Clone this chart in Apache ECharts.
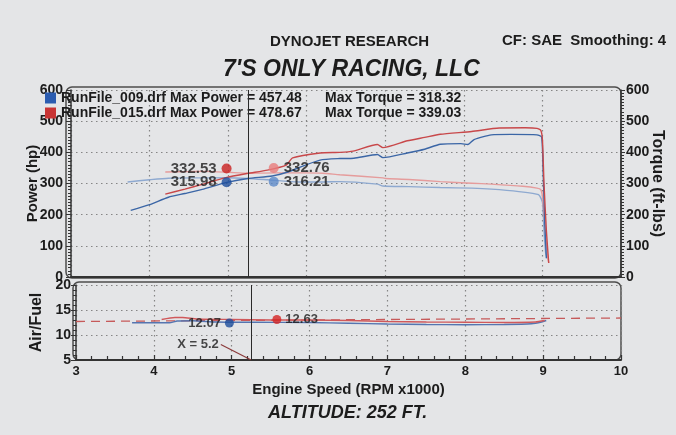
<!DOCTYPE html>
<html><head><meta charset="utf-8">
<script src="https://cdn.jsdelivr.net/npm/echarts@6/dist/echarts.min.js"></script>
<style>html,body{margin:0;padding:0;background:#e4e5e7}#c{width:676px;height:435px}</style>
</head><body><div id="c"></div>
<script>
// ---- data ----
const runNames = ['RunFile_009.drf', 'RunFile_015.drf'];
const maxPower = ['457.48', '478.67'];
const maxTorque = ['318.32', '339.03'];

// [rpm x1000, hp]
const bluePower = [[3.76,214],[4.0,232],[4.24,256],[4.45,268],[4.67,281],[4.97,303],[5.25,316],[5.56,324],[5.75,336],[5.91,352],[6.17,375],[6.42,380],[6.6,381],[6.9,393],[6.97,383],[7.28,398],[7.5,410],[7.7,426],[7.96,428],[8.05,425],[8.13,441],[8.35,456],[8.6,457.5],[8.93,456],[8.99,449],[9.01,330],[9.03,170],[9.05,60]];
const redPower = [[4.2,266],[4.45,282],[4.67,297],[4.97,319],[5.25,332.5],[5.5,343],[5.74,359],[5.82,382],[6.17,398],[6.42,400],[6.59,404],[6.9,425],[6.97,415],[7.28,437],[7.5,448],[7.7,458],[8.1,467],[8.45,478],[8.78,478.67],[8.93,477],[8.98,470],[9.0,440],[9.02,300],[9.05,150],[9.08,45]];
// [rpm x1000, ft-lbs]
const blueTorque = [[3.72,305],[4.0,312],[4.24,317],[4.6,318],[4.97,318.3],[5.25,316.2],[5.5,312],[5.9,305],[6.2,305],[6.42,306],[6.9,298],[6.97,292],[7.3,290],[7.7,287],[8.1,285],[8.35,282],[8.7,274],[8.95,264],[9.0,240],[9.02,150],[9.04,80],[9.06,60]];
const redTorque = [[4.2,337],[4.5,338],[4.7,339],[5.0,336],[5.25,332.8],[5.6,334],[6.0,334],[6.2,333],[6.42,328],[6.97,318],[7.0,316],[7.3,313],[7.7,306],[8.1,301],[8.35,298],[8.75,291],[8.93,285],[8.98,280],[9.0,260],[9.03,170],[9.06,80],[9.08,45]];
// [rpm x1000, air/fuel]
const blueAfr = [[3.72,12.45],[4.2,12.45],[4.3,12.8],[4.5,12.85],[4.8,12.6],[5.25,12.55],[6.0,12.5],[6.5,12.35],[7.0,12.2],[7.5,12.1],[8.0,12.05],[8.5,12.1],[8.85,12.25],[8.98,12.6],[9.04,12.9]];
const redAfr = [[4.1,13.1],[4.27,13.5],[4.37,13.5],[4.55,13.2],[5.0,13.1],[5.5,13.0],[6.0,13.0],[6.5,12.9],[7.0,12.7],[7.5,12.6],[8.0,12.55],[8.5,12.5],[8.9,12.6],[9.02,12.9]];
const afrTarget = [[3,12.7],[10,13.4]];

const cursorRpm = 5.25;
const cursorText = 'X = 5.2';
const cursorLeader = [[4.86,8.1],[5.25,5.0]];
// cursor read-out dots: [rpm, value, text]
const powerDots = [[4.98,348,'332.53'],[4.98,304,'315.98']];
const torqueDots = [[5.58,350,'332.76'],[5.58,306,'316.21']];
const afrDots = [[4.97,12.4,'12.07'],[5.58,13.1,'12.63']];

// ---- styling ----
const F = 'Liberation Sans';
const C = {bluePow:'#3b66a6', blueTq:'#8ea9d0', redPow:'#c8484a', redTq:'#e59c9c',
  dotRed:'#c91f1f', dotRedL:'#e87c7c', dotBlue:'#1d4d9c', dotBlueL:'#5d89c9'};
const txt = '#1c1c1c';
const gridLine = {show:true, lineStyle:{color:'#858585', width:1.2, type:[1.5,3.5]}};
const lab = {color:txt, fontFamily:F, fontWeight:'bold', fontSize:14};

const chart = echarts.init(document.getElementById('c'));
const cursorMark = {silent:true, symbol:'none', label:{show:false},
  lineStyle:{color:'#2a2a2a', width:1, type:'solid'}, data:[{xAxis:cursorRpm}]};

function dots(arr, colors, pos, fs) {
  return arr.map((d, i) => ({value:[d[0], d[1]], name:d[2],
    itemStyle:{color:colors[i]}, label:{position:pos, fontSize:fs}}));
}

chart.setOption({
  backgroundColor:'#e4e5e7',
  animation:false,
  title:[
    {text:'DYNOJET RESEARCH', left:265, top:29, textStyle:{fontFamily:F, fontWeight:'bold', fontSize:15, color:txt}},
    {text:'CF: SAE  Smoothing: 4', left:497, top:28, textStyle:{fontFamily:F, fontWeight:'bold', fontSize:15, color:txt}},
    {text:"7'S ONLY RACING, LLC", left:218, top:53, textStyle:{fontFamily:F, fontWeight:'bold', fontStyle:'italic', fontSize:23, color:txt}},
    {text:'ALTITUDE: 252 FT.', left:263, top:399, textStyle:{fontFamily:F, fontWeight:'bold', fontStyle:'italic', fontSize:18, color:txt}}
  ],
  legend:{
    left:40, top:86, orient:'vertical', icon:'rect', itemWidth:11, itemHeight:11, itemGap:1,
    selectedMode:false,
    data:[{name:runNames[0], itemStyle:{color:'#2b5cb0'}}, {name:runNames[1], itemStyle:{color:'#c83434'}}],
    formatter: n => { const i = runNames.indexOf(n); return `{a|${n} Max Power = ${maxPower[i]}}{b|Max Torque = ${maxTorque[i]}}`; },
    textStyle:{fontFamily:F, fontWeight:'bold', fontSize:14, color:txt, lineHeight:14,
      rich:{a:{width:264, fontFamily:F, fontWeight:'bold', fontSize:14, color:txt},
            b:{fontFamily:F, fontWeight:'bold', fontSize:14, color:txt}}}
  },
  graphic:[
    {type:'rect', z:0, shape:{x:66, y:87, width:555, height:191, r:6}, style:{fill:'none', stroke:'#4d4d4d', lineWidth:1.5}},
    {type:'rect', z:0, shape:{x:73, y:282, width:548, height:78, r:6}, style:{fill:'none', stroke:'#4d4d4d', lineWidth:1.5}}
  ],
  grid:[
    {left:71, right:55, top:90, bottom:158, outerBoundsMode:'none', containLabel:false},
    {left:76, right:55, top:285, bottom:75, outerBoundsMode:'none', containLabel:false}
  ],
  xAxis:[
    {gridIndex:0, type:'value', min:3, max:10, interval:1, axisLabel:{show:false}, axisTick:{show:false},
      axisLine:{show:true, lineStyle:{color:'#333', width:2}}, splitLine:gridLine},
    {gridIndex:1, type:'value', min:3, max:10, interval:1,
      axisLabel:Object.assign({}, lab, {fontSize:13, margin:5}),
      axisTick:{show:true, inside:true, length:5, lineStyle:{color:'#333', width:1.2}},
      minorTick:{show:true, splitNumber:5, length:4, lineStyle:{color:'#333', width:1.2}},
      axisLine:{show:true, lineStyle:{color:'#333', width:2}}, splitLine:gridLine,
      name:'Engine Speed (RPM x1000)', nameLocation:'middle', nameGap:22, nameMoveOverlap:false,
      nameTextStyle:{fontFamily:F, fontWeight:'bold', fontSize:15, color:txt}}
  ],
  yAxis:[
    {gridIndex:0, type:'value', min:0, max:600, interval:100, axisLabel:Object.assign({}, lab, {margin:8}),
      axisLine:{show:true, lineStyle:{color:'#333', width:1.5}},
      axisTick:{show:true, length:5, lineStyle:{color:'#333'}},
      minorTick:{show:true, splitNumber:10, length:3, lineStyle:{color:'#333'}},
      splitLine:gridLine,
      name:'Power (hp)', nameLocation:'middle', nameGap:31, nameRotate:90, nameMoveOverlap:false,
      nameTextStyle:{fontFamily:F, fontWeight:'bold', fontSize:15, color:txt}},
    {gridIndex:0, type:'value', min:0, max:600, interval:100, position:'right', axisLabel:Object.assign({}, lab, {margin:5}),
      axisLine:{show:true, lineStyle:{color:'#333', width:1.5}},
      axisTick:{show:true, length:4, lineStyle:{color:'#333'}},
      minorTick:{show:true, splitNumber:10, length:3, lineStyle:{color:'#333'}},
      splitLine:{show:false},
      name:'Torque (ft-lbs)', nameLocation:'middle', nameGap:28, nameRotate:-90, nameMoveOverlap:false,
      nameTextStyle:{fontFamily:F, fontWeight:'bold', fontSize:16, color:txt}},
    {gridIndex:1, type:'value', min:5, max:20, interval:5, axisLabel:Object.assign({}, lab, {margin:5}),
      axisLine:{show:true, lineStyle:{color:'#333', width:1.5}},
      axisTick:{show:true, length:5, lineStyle:{color:'#333'}},
      minorTick:{show:true, splitNumber:5, length:3, lineStyle:{color:'#333'}},
      splitLine:gridLine,
      name:'Air/Fuel', nameLocation:'middle', nameGap:31, nameRotate:90, nameMoveOverlap:false,
      nameTextStyle:{fontFamily:F, fontWeight:'bold', fontSize:16, color:txt}}
  ],
  series:[
    {name:runNames[0], type:'line', xAxisIndex:0, yAxisIndex:1, data:blueTorque, showSymbol:false, smooth:0.2, lineStyle:{color:C.blueTq, width:1.4}, itemStyle:{color:C.blueTq}, z:2},
    {name:runNames[1], type:'line', xAxisIndex:0, yAxisIndex:1, data:redTorque, showSymbol:false, smooth:0.2, lineStyle:{color:C.redTq, width:1.4}, itemStyle:{color:C.redTq}, z:2},
    {name:runNames[0], type:'line', xAxisIndex:0, yAxisIndex:0, data:bluePower, showSymbol:false, smooth:0.2, lineStyle:{color:C.bluePow, width:1.4}, itemStyle:{color:C.bluePow}, z:3, markLine:cursorMark},
    {name:runNames[1], type:'line', xAxisIndex:0, yAxisIndex:0, data:redPower, showSymbol:false, smooth:0.2, lineStyle:{color:C.redPow, width:1.4}, itemStyle:{color:C.redPow}, z:3},
    {type:'scatter', xAxisIndex:0, yAxisIndex:0, symbolSize:10, z:5,
      label:{show:true, formatter:'{b}', distance:5, fontFamily:F, fontWeight:'bold', color:txt},
      data:dots(powerDots, [C.dotRed, C.dotBlue], 'left', 15)},
    {type:'scatter', xAxisIndex:0, yAxisIndex:1, symbolSize:10, z:5,
      label:{show:true, formatter:'{b}', distance:5, fontFamily:F, fontWeight:'bold', color:txt},
      data:dots(torqueDots, [C.dotRedL, C.dotBlueL], 'right', 15)},
    {type:'line', xAxisIndex:1, yAxisIndex:2, data:afrTarget, showSymbol:false, lineStyle:{color:'#c65a5a', width:1.3, type:[9,6]}, z:2},
    {name:runNames[0], type:'line', xAxisIndex:1, yAxisIndex:2, data:blueAfr, showSymbol:false, smooth:0.2, lineStyle:{color:'#5575b0', width:1.4}, z:3, markLine:cursorMark},
    {name:runNames[1], type:'line', xAxisIndex:1, yAxisIndex:2, data:redAfr, showSymbol:false, smooth:0.2, lineStyle:{color:'#d0595b', width:1.4}, z:3},
    {type:'line', xAxisIndex:1, yAxisIndex:2, data:cursorLeader, showSymbol:false,
      lineStyle:{color:'#8b3b3b', width:1.2}, z:4},
    {type:'scatter', xAxisIndex:1, yAxisIndex:2, symbolSize:2, itemStyle:{color:'rgba(0,0,0,0)'}, z:4,
      label:{show:true, position:'left', formatter:cursorText, fontFamily:F, fontWeight:'bold', fontSize:13, color:txt, distance:1},
      data:[cursorLeader[0]]},
    {type:'scatter', xAxisIndex:1, yAxisIndex:2, symbolSize:9, z:5,
      label:{show:true, formatter:'{b}', distance:4, fontFamily:F, fontWeight:'bold', color:txt},
      data:afrDots.map((d, i) => ({value:[d[0], d[1]], name:d[2], itemStyle:{color:i ? '#d42424' : C.dotBlue},
        label:{position:i ? 'right' : 'left', fontSize:13}}))}
  ]
});
</script></body></html>
